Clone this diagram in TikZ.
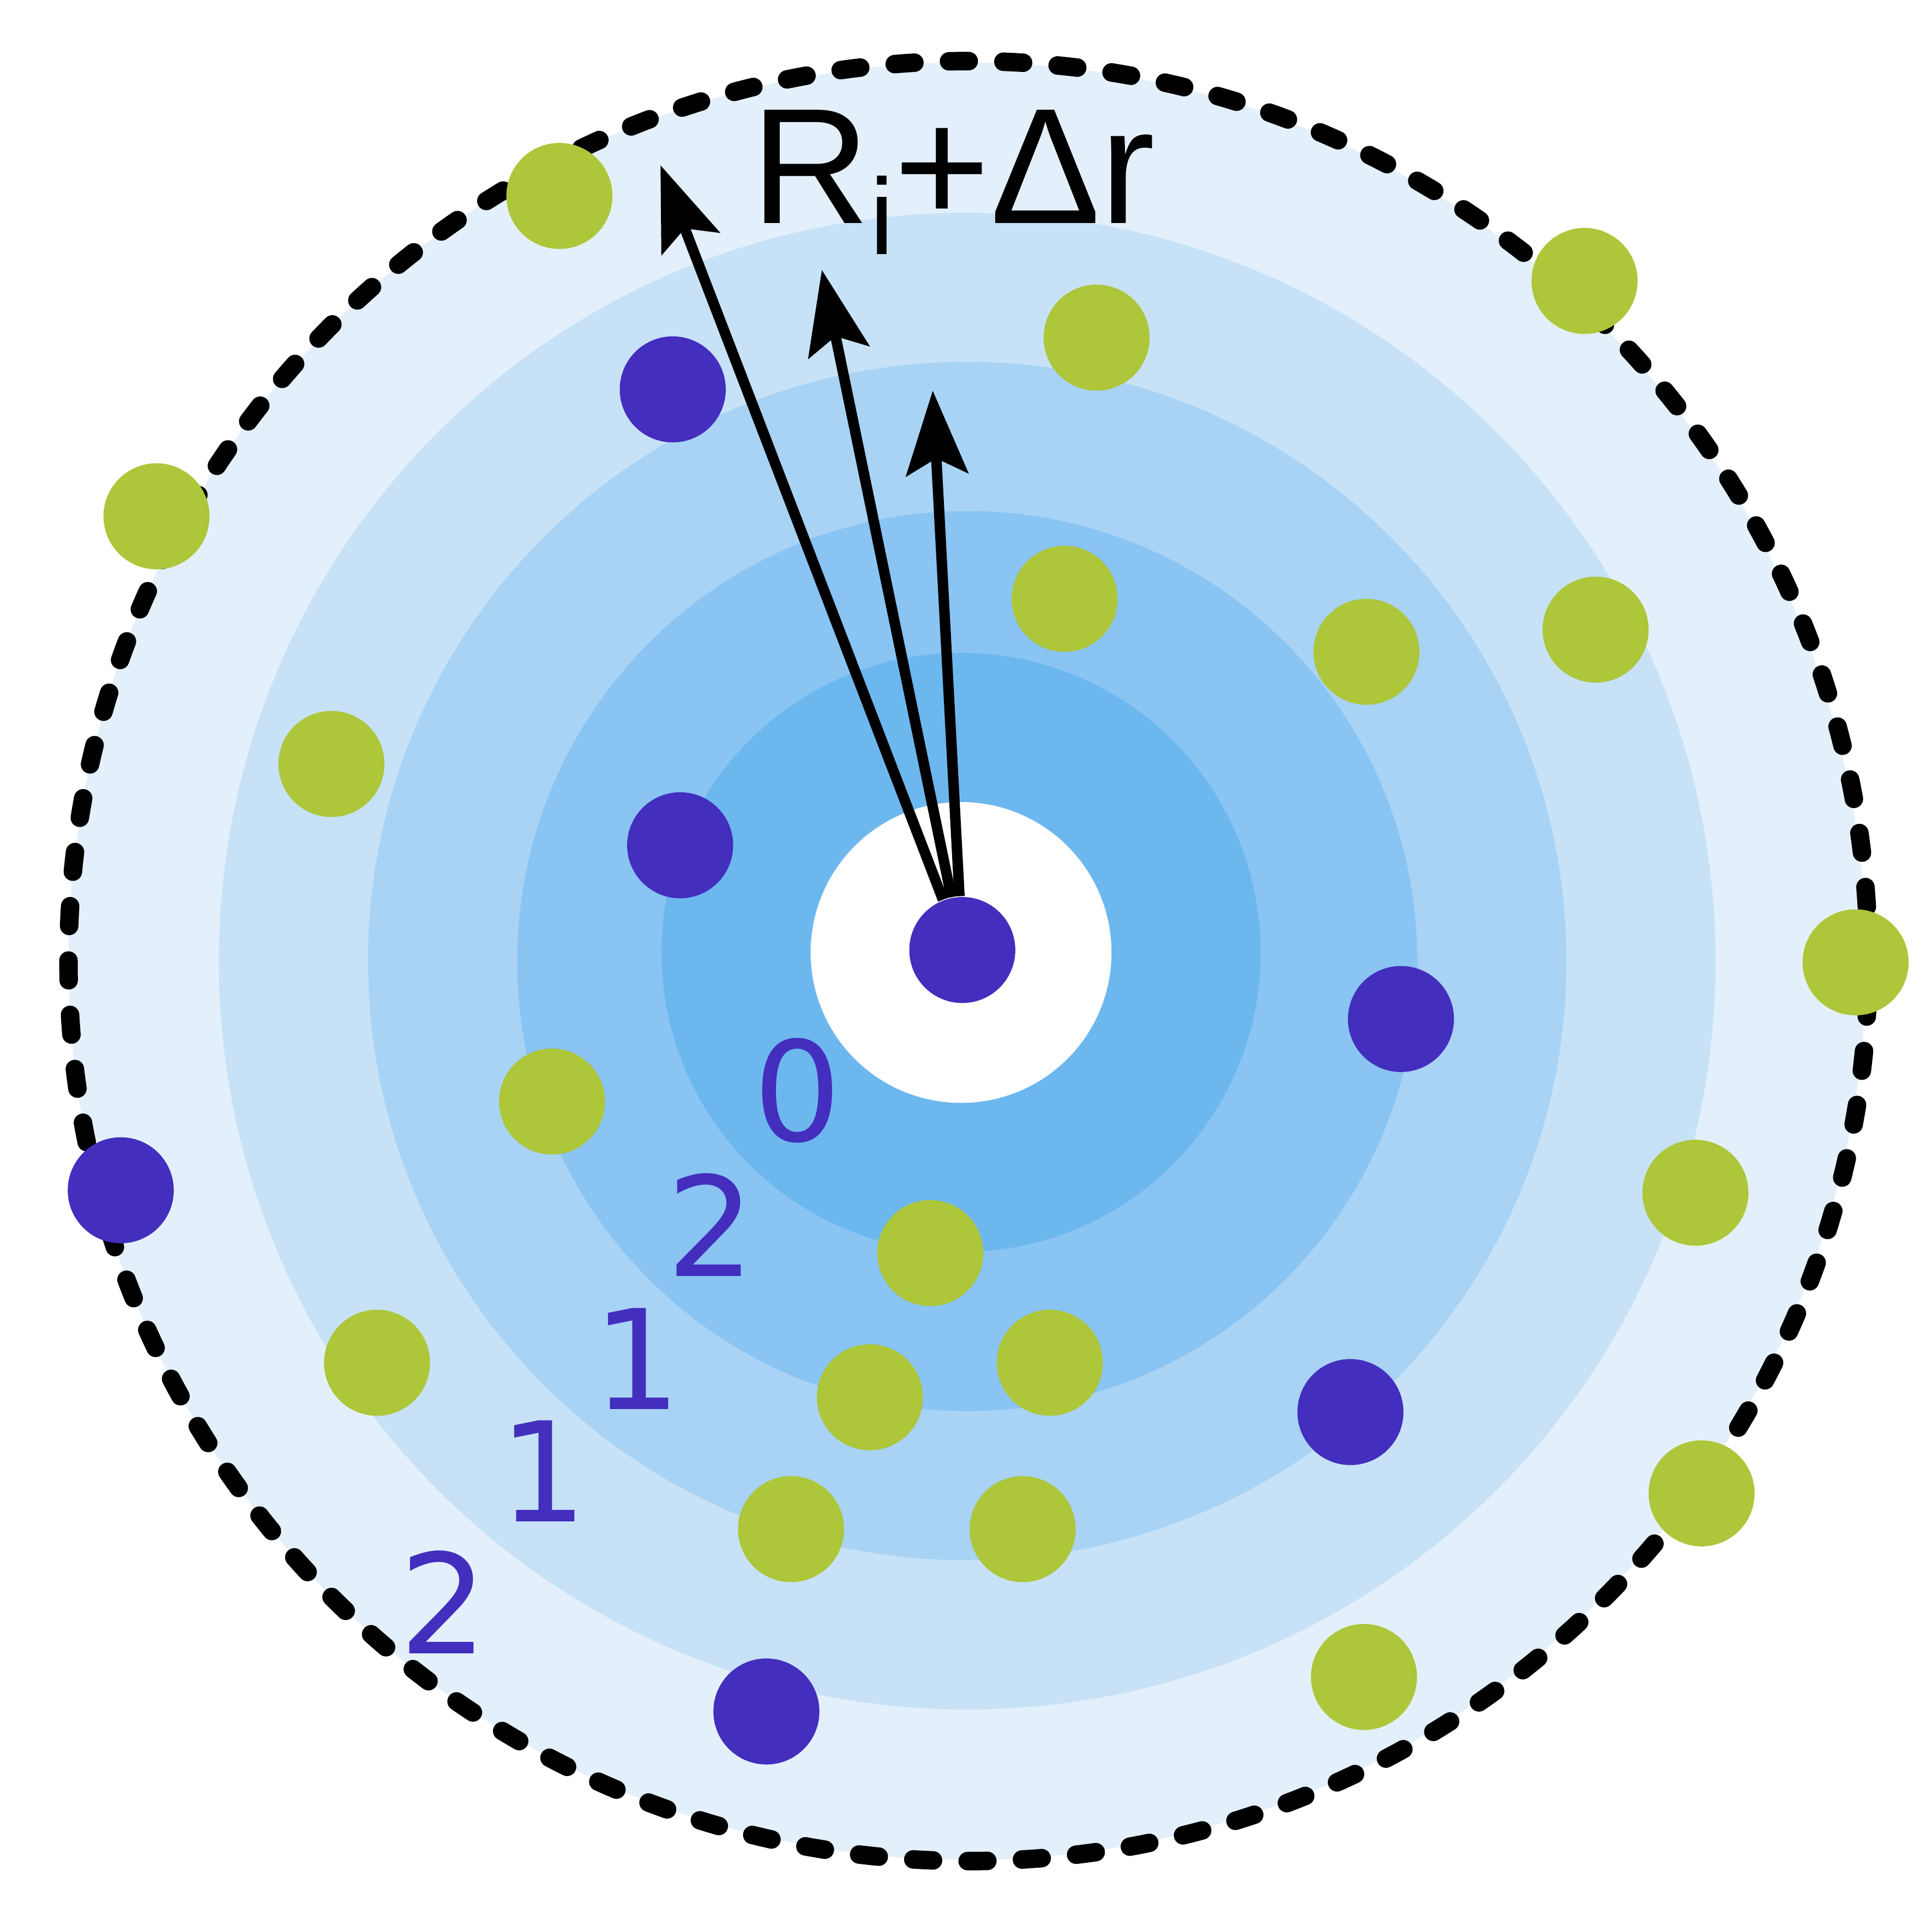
\documentclass[tikz,border=0pt]{standalone}
\usepackage{fontspec}
\setmainfont{Liberation Sans}
\newfontfamily\digitfont{DejaVu Sans}
\usetikzlibrary{arrows.meta}
\definecolor{shellfive}{RGB}{227,240,251}
\definecolor{shellfour}{RGB}{199,226,247}
\definecolor{shellthree}{RGB}{168,211,245}
\definecolor{shelltwo}{RGB}{137,196,243}
\definecolor{shellone}{RGB}{109,183,239}
\definecolor{atompurple}{RGB}{67,46,190}
\definecolor{atomgreen}{RGB}{173,198,58}

\begin{document}
\begin{tikzpicture}[x=0.01cm,y=-0.01cm,
        purpleatom/.style={circle,fill=atompurple,inner sep=0pt,minimum size=0.86cm},
        greenatom/.style={circle,fill=atomgreen,inner sep=0pt,minimum size=0.86cm},
        shellnum/.style={anchor=base,inner sep=0pt,text=atompurple,font=\digitfont\fontsize{32}{38}\selectfont},
        rvec/.style={line width=0.085cm,-{Stealth[length=0.68cm,width=0.5cm,inset=0.13cm]}}]
        \useasboundingbox (0,0) rectangle (1568,1568);
        \coordinate (O) at (785,780);
        \coordinate (I) at (780,773);
        % shells
        \fill[shellfive] (O) circle[radius=7.29cm];
        \fill[shellfour] (O) circle[radius=6.07cm];
        \fill[shellthree] (O) circle[radius=4.86cm];
        \fill[shelltwo] (O) circle[radius=3.65cm];
        \fill[shellone] (I) circle[radius=2.43cm];
        \fill[white] (I) circle[radius=1.22cm];
        \draw[line width=0.15cm,line cap=round,dash pattern=on 0.16cm off 0.281cm] (786,780) circle[radius=7.30cm];
        % atoms
        \node[purpleatom] (c) at (781,771) {};
        \foreach \n/\x/\y in {1/546/316, 2/552/686, 3/1137/827, 4/98/966, 5/1096/1146, 6/622/1389}
            \node[purpleatom] (p\n) at (\x,\y) {};
        \foreach \n/\x/\y in {1/454/159, 2/1286/228, 3/890/274, 4/127/419, 5/864/486, 6/1109/529, 7/1295/511,
                8/269/620, 9/1506/781, 10/448/894, 11/1376/968, 12/755/1017, 13/306/1106, 14/852/1106,
                15/706/1134, 16/1381/1212, 17/642/1241, 18/830/1241, 19/1107/1361}
            \node[greenatom] (g\n) at (\x,\y) {};
        % radii
        \coordinate (t1) at (536,134);
        \coordinate (t2) at (667,219);
        \coordinate (t3) at (757,317);
        \draw[rvec] (c) -- (t1);
        \draw[rvec] (c) -- (t2);
        \draw[rvec] (c) -- (t3);
        \node[anchor=base west,inner sep=0pt,font=\fontsize{38}{44}\selectfont] (lbl) at (609,181)
            {R\raisebox{-0.19em}{\fontsize{25}{30}\selectfont i}+Δr};
        % shell numbers
        \node[shellnum] (n0) at (647,926) {0};
        \node[shellnum] (n1) at (577,1036) {2};
        \node[shellnum] (n2) at (517,1144) {1};
        \node[shellnum] (n3) at (441,1235) {1};
        \node[shellnum] (n4) at (360,1342) {2};
    \end{tikzpicture}
\end{document}
